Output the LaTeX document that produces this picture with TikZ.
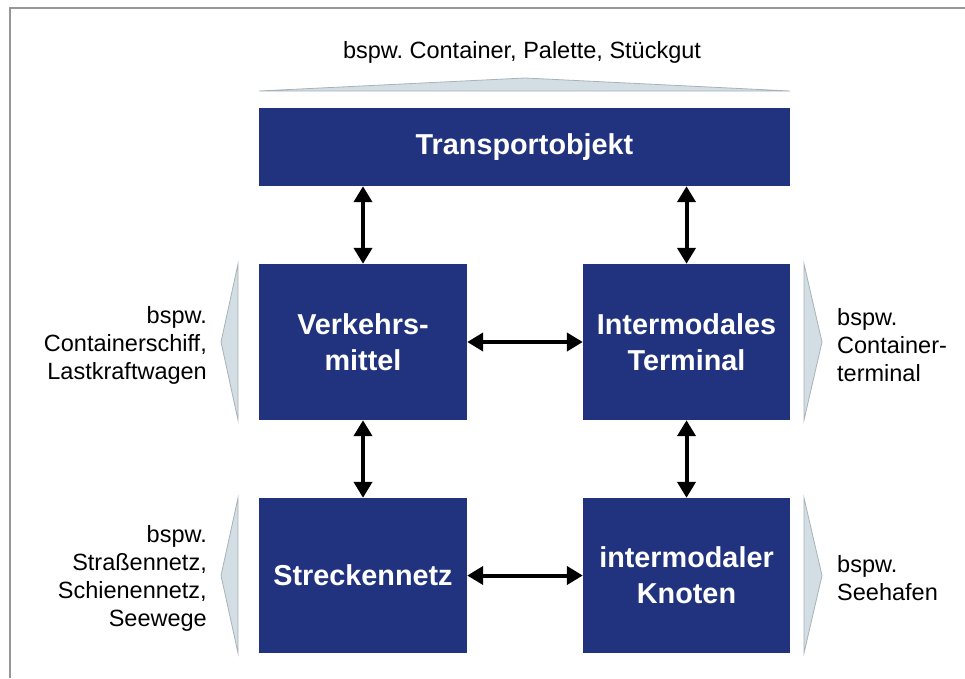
\documentclass[tikz,border=0pt]{standalone}
\usepackage{fontspec}
\setmainfont{Liberation Sans}
\usetikzlibrary{arrows.meta}
\definecolor{boxblue}{RGB}{33,50,126}
\definecolor{wedgefill}{RGB}{211,222,228}
\definecolor{wedgeline}{RGB}{168,178,184}
\definecolor{framegray}{RGB}{150,150,150}
\frenchspacing

\begin{document}
\begin{tikzpicture}[x=1pt, y=-1pt,
        block/.style={fill=boxblue, text=white, font=\fontsize{28.8}{36}\selectfont\bfseries, align=center, inner sep=0pt},
        note/.style={font=\fontsize{23.5}{28}\selectfont, inner sep=0pt},
        wedge/.style={fill=wedgefill, draw=wedgeline, line width=0.8pt},
        link/.style={line width=4pt, {Triangle[length=16pt,width=18pt]}-{Triangle[length=16pt,width=18pt]}}]
        \useasboundingbox (0,0) rectangle (965,678);

        % frame
        \draw[framegray, line width=1.5pt] (10,678) -- (10,8) -- (965,8);

        \node[block, minimum width=531pt, minimum height=78pt] (transport) at (524.5,147) {Transportobjekt};
        \node[block, minimum width=208pt, minimum height=156pt] (verkehr) at (363,342) {Verkehrs-\\mittel};
        \node[block, minimum width=207pt, minimum height=156pt] (terminal) at (686.5,342) {Intermodales\\Terminal};
        \node[block, minimum width=208pt, minimum height=155pt] (strecken) at (363,575.5) {Streckennetz};
        \node[block, minimum width=207pt, minimum height=155pt] (knoten) at (686.5,575.5) {intermodaler\\Knoten};

        % wedges
        \draw[wedge] (259,91) -- (525,78) -- (790,91) -- cycle;
        \draw[wedge] (238,264) -- (221,342) -- (238,420) -- cycle;
        \draw[wedge] (238,498) -- (221,575.5) -- (238,653) -- cycle;
        \draw[wedge] (804,264) -- (822,342) -- (804,420) -- cycle;
        \draw[wedge] (804,498) -- (822,575.5) -- (804,653) -- cycle;

        % examples
        \node[note] (objekte) at (522,52) {bspw. Container, Palette, Stückgut};
        \node[note, anchor=east, align=right] (fahrzeuge) at (207,345) {bspw.\\Containerschiff,\\Lastkraftwagen};
        \node[note, anchor=east, align=right] (netze) at (207,578) {bspw.\\Straßennetz,\\Schienennetz,\\Seewege};
        \node[note, anchor=west, align=left] (terminals) at (837,345) {bspw.\\Container-\\terminal};
        \node[note, anchor=west, align=left] (haefen) at (837,578) {bspw.\\Seehafen};

        \draw[link] (transport.south -| verkehr.north) -- (verkehr.north);
        \draw[link] (transport.south -| terminal.north) -- (terminal.north);
        \draw[link] (verkehr) -- (terminal);
        \draw[link] (verkehr) -- (strecken);
        \draw[link] (terminal) -- (knoten);
        \draw[link] (strecken) -- (knoten);
    \end{tikzpicture}
\end{document}
